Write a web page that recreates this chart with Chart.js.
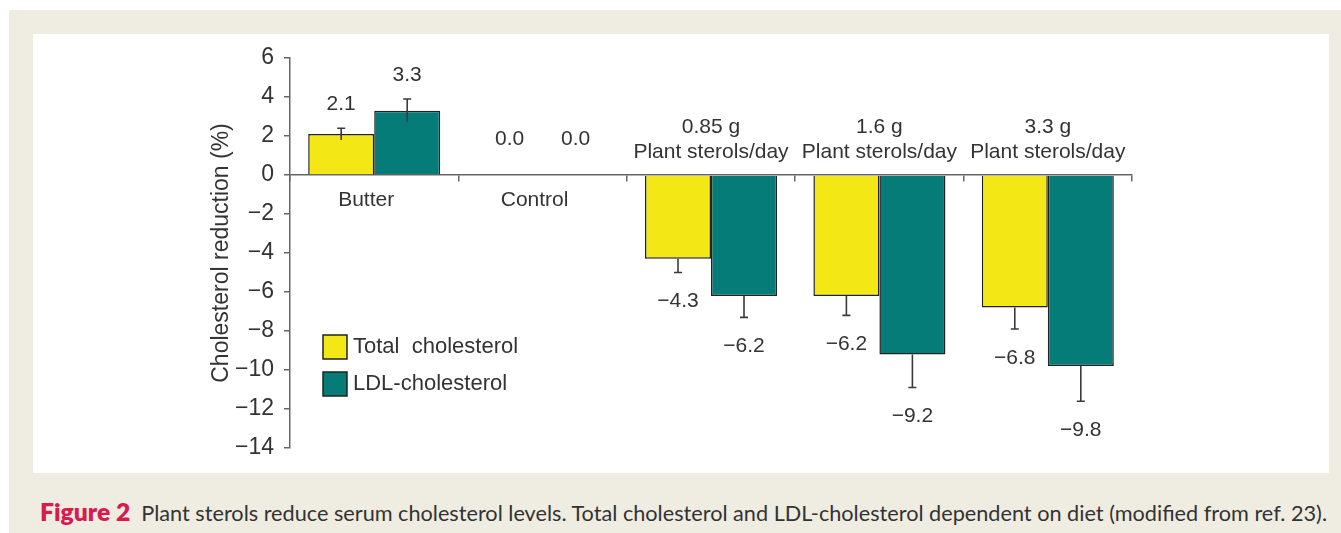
<!DOCTYPE html>
<html><head><meta charset="utf-8">
<script src="https://cdn.jsdelivr.net/npm/chart.js@4/dist/chart.umd.min.js"></script>
<style>
html,body{margin:0;padding:0;background:#fff;width:1341px;height:533px;overflow:hidden;}
#frame{position:absolute;left:9px;top:10px;width:1332px;height:523px;background:#efece2;}
#panel{position:absolute;left:24px;top:24px;width:1296px;height:439px;background:#fff;}
#cap{position:absolute;left:40px;top:498px;line-height:26px;white-space:nowrap;font-family:Lato,'Open Sans',sans-serif;font-size:22px;color:#333;transform-origin:0 50%;}
#cap b{color:#d81b4f;font-weight:800;font-size:25px;}
</style></head>
<body>
<div id="frame"><div id="panel"><canvas id="c" width="1296" height="439"></canvas></div></div>
<div id="cap"><b>Figure 2</b>&nbsp; Plant sterols reduce serum cholesterol levels. Total cholesterol and LDL-cholesterol dependent on diet (modified from ref. 23).</div>
<script>
const categories = ['Butter', 'Control', ['0.85 g', 'Plant sterols/day'], ['1.6 g', 'Plant sterols/day'], ['3.3 g', 'Plant sterols/day']];
const seriesNames = ['Total  cholesterol', 'LDL-cholesterol'];
const totalChol = [2.1, 0.0, -4.3, -6.2, -6.8];
const ldlChol = [3.3, 0.0, -6.2, -9.2, -9.8];
const totalErr = [0.3, 0, 0.7, 1.0, 1.1];
const ldlErr = [0.6, 0, 1.1, 1.7, 1.8];
const yTicks = [6, 4, 2, 0, -2, -4, -6, -8, -10, -12, -14];
const errors = [totalErr, ldlErr];

const FONT = "'Liberation Sans', Arial, sans-serif";
Chart.defaults.font.family = FONT;
const minus = s => String(s).replace('-', '\u2212');

const annot = {
  id: 'annot',
  afterDatasetsDraw(chart) {
    const ctx = chart.ctx, ys = chart.scales.y, xs = chart.scales.x;
    ctx.save();
    chart.data.datasets.forEach((ds, i) => {
      const meta = chart.getDatasetMeta(i);
      meta.data.forEach((bar, j) => {
        const v = ds.data[j], e = errors[i][j];
        const yv = ys.getPixelForValue(v);
        let yEnd = yv;
        if (e > 0) {
          const end = v >= 0 ? v + e : v - e;
          yEnd = ys.getPixelForValue(end);
          const yStart = v > 0 ? ys.getPixelForValue(v - e) : yv;
          ctx.strokeStyle = '#3a3a3a';
          ctx.lineWidth = 1.6;
          ctx.beginPath();
          ctx.moveTo(bar.x, yStart); ctx.lineTo(bar.x, yEnd);
          ctx.moveTo(bar.x - 4, yEnd); ctx.lineTo(bar.x + 4, yEnd);
          ctx.stroke();
        }
        ctx.fillStyle = '#333';
        ctx.font = '21px ' + FONT;
        ctx.textAlign = 'center';
        ctx.textBaseline = 'middle';
        const ly = v >= 0 ? yEnd - (e > 0 ? 24 : 36) : yEnd + 29;
        ctx.fillText(minus(v.toFixed(1)), bar.x, ly);
      });
    });
    const zero = ys.getPixelForValue(0);
    ctx.font = '21px ' + FONT;
    ctx.fillStyle = '#333';
    ctx.textAlign = 'center';
    ctx.textBaseline = 'middle';
    categories.forEach((c, j) => {
      const x = xs.getPixelForValue(j);
      const lines = Array.isArray(c) ? c : [c];
      const vals = chart.data.datasets.map(d => d.data[j]);
      if (Math.min(...vals) >= 0) {
        lines.forEach((t, k) => ctx.fillText(t, x - 8, zero + 25 + k * 25));
      } else {
        const n = lines.length;
        lines.forEach((t, k) => ctx.fillText(t, x, zero - 23 - (n - 1 - k) * 25));
      }
    });
    const lx = chart.chartArea.left + 33, ly0 = chart.chartArea.top + 277;
    chart.data.datasets.forEach((ds, i) => {
      const by = ly0 + i * 37;
      ctx.fillStyle = ds.backgroundColor;
      ctx.fillRect(lx, by, 24, 24);
      ctx.strokeStyle = '#222';
      ctx.lineWidth = 1.5;
      ctx.strokeRect(lx, by, 24, 24);
      ctx.fillStyle = '#333';
      ctx.font = '22px ' + FONT;
      ctx.textAlign = 'left';
      ctx.fillText(ds.label, lx + 30, by + 12);
    });
    ctx.restore();
  }
};

new Chart(document.getElementById('c'), {
  type: 'bar',
  data: {
    labels: categories,
    datasets: [
      {label: seriesNames[0], data: totalChol, backgroundColor: '#f3e816', borderColor: '#222', borderWidth: 1.5, categoryPercentage: 0.784, barPercentage: 1},
      {label: seriesNames[1], data: ldlChol, backgroundColor: '#067c79', borderColor: '#222', borderWidth: 1.5, categoryPercentage: 0.784, barPercentage: 1}
    ]
  },
  options: {
    responsive: false,
    animation: false,
    layout: {padding: {top: 24, bottom: 25, left: 0, right: 197}},
    plugins: {legend: {display: false}, tooltip: {enabled: false}},
    scales: {
      x: {
        type: 'category',
        position: {y: 0},
        grid: {offset: true, drawOnChartArea: false, drawTicks: true, tickLength: 6, color: '#666', lineWidth: 1.5},
        border: {color: '#666', width: 1.5},
        ticks: {display: false}
      },
      y: {
        min: -14, max: 6,
        afterBuildTicks: s => { s.ticks = yTicks.map(v => ({value: v})); },
        afterFit: s => { s.width = 257; },
        ticks: {font: {size: 23}, color: '#333', padding: 10, callback: v => minus(v)},
        grid: {drawOnChartArea: false, drawTicks: true, tickLength: 6, color: '#666', lineWidth: 1.5},
        border: {color: '#666', width: 1.5},
        title: {display: true, text: 'Cholesterol reduction (%)', font: {size: 23}, color: '#333', padding: {top: 175, bottom: 0}}
      }
    }
  },
  plugins: [annot]
});

const cap = document.getElementById('cap');
const w = cap.getBoundingClientRect().width;
cap.style.transform = 'scaleX(' + (1287 / w) + ')';
</script>
</body></html>
